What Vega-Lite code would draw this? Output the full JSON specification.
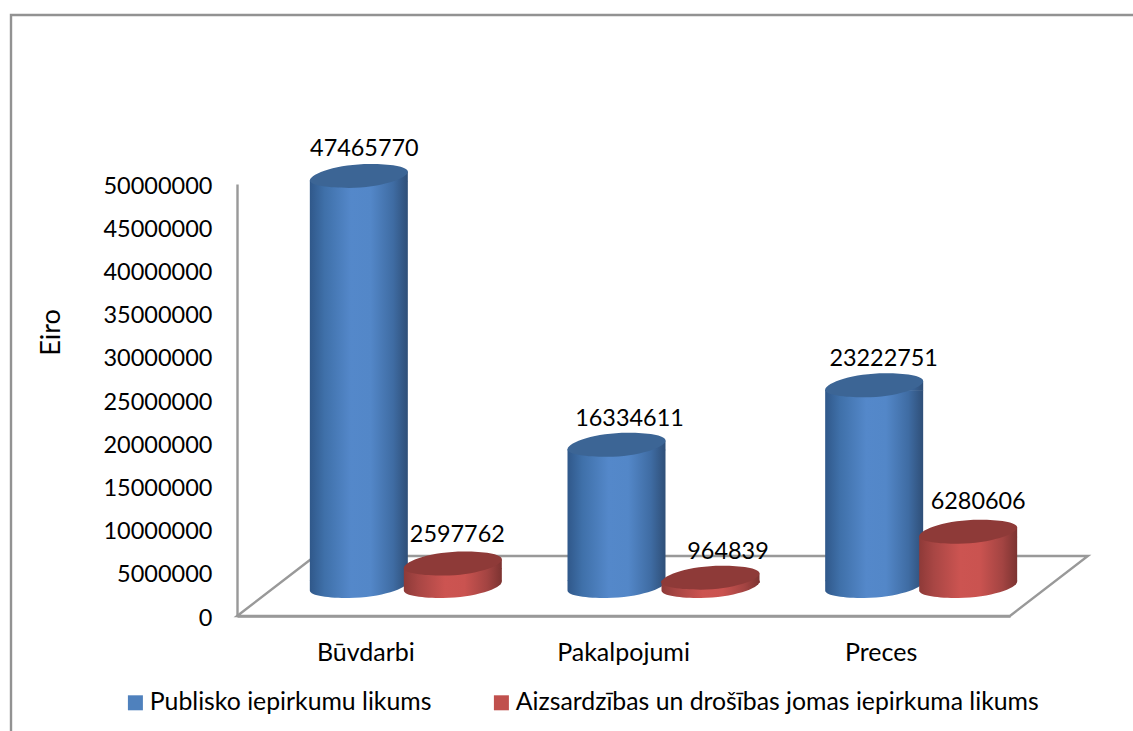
{
"$schema":"https://vega.github.io/schema/vega-lite/v6.json",
"autosize":"none",
"padding":{"left":11,"top":15,"right":0,"bottom":0},
"width":1125,"height":720,
"background":"white",
"config":{"view":{"stroke":"#929292","strokeWidth":2.4},"font":"Lato"},
"datasets":{"d":[
{"kategorija":"Būvdarbi","likums":"Publisko iepirkumu likums","eiro":47465770},
{"kategorija":"Būvdarbi","likums":"Aizsardzības un drošības jomas iepirkuma likums","eiro":2597762},
{"kategorija":"Pakalpojumi","likums":"Publisko iepirkumu likums","eiro":16334611},
{"kategorija":"Pakalpojumi","likums":"Aizsardzības un drošības jomas iepirkuma likums","eiro":964839},
{"kategorija":"Preces","likums":"Publisko iepirkumu likums","eiro":23222751},
{"kategorija":"Preces","likums":"Aizsardzības un drošības jomas iepirkuma likums","eiro":6280606}
]},
"data":{"name":"d"},
"encoding":{
"x":{"field":"kategorija","type":"nominal","sort":null,"title":null,
 "scale":{"type":"band","domain":["Būvdarbi","Pakalpojumi","Preces"],"range":[226,999],"paddingInner":0,"paddingOuter":0},
 "axis":{"offset":-119,"ticks":false,"labelAngle":0,"labelPadding":24,"labelFontSize":25,"labelColor":"#000","labelFont":"Lato","domainColor":"#999999","domainWidth":2.4,"grid":false}},
"y":{"field":"eiro","type":"quantitative","title":"Eiro",
 "scale":{"domain":[0,50000000],"range":[601,169],"nice":false},
 "axis":{"offset":-226,"values":[0,5000000,10000000,15000000,20000000,25000000,30000000,35000000,40000000,45000000,50000000],"format":"d","ticks":false,"grid":false,"labelPadding":25,"labelOffset":2,"labelFontSize":23.5,"labelColor":"#000","labelFont":"Lato","domainColor":"#999999","domainWidth":2.4,"titleFont":"Lato","titleFontWeight":"normal","titleFontSize":27,"titleColor":"#000","titleX":-186,"titleY":317,"titleAngle":270,"titleAlign":"center","titleBaseline":"middle"}}
},
"layer":[
{"transform":[{"filter":"datum.kategorija==='Pakalpojumi' && datum.eiro>5000000"}],
 "mark":{"type":"point","filled":false,"stroke":"#999999","strokeWidth":2.4,"size":640000,"opacity":1,"shape":"M-0.966 0L-0.771 -0.15L1.161 -0.15L0.966 0Z"},
 "encoding":{"y":{"datum":0}}},

{"transform":[{"filter":"datum.likums==='Publisko iepirkumu likums'"}],
 "layer":[
 {"mark":{"type":"bar","width":98,"xOffset":-7,"yOffset":-25,"y2Offset":-35,"fill":{"gradient":"linear","x1":0,"y1":0,"x2":1,"y2":0,"stops":[{"offset":0,"color":"#30588a"},{"offset":0.15,"color":"#3f70a9"},{"offset":0.42,"color":"#5488ca"},{"offset":0.62,"color":"#5387c8"},{"offset":0.85,"color":"#3f6ca3"},{"offset":1,"color":"#2f4f78"}]}},"encoding":{"y2":{"datum":0}}},
 {"mark":{"type":"point","filled":true,"opacity":1,"xOffset":-7,"yOffset":-30,"size":9604,"shape":"M-1 -0.11L1 -0.11L1 -0.09C1 0.05 0.45 0.24 -0.2 0.245C-0.6 0.245 -1 0.2 -1 0.09Z","fill":{"gradient":"linear","x1":0,"y1":0,"x2":1,"y2":0,"stops":[{"offset":0,"color":"#30588a"},{"offset":0.15,"color":"#3f70a9"},{"offset":0.42,"color":"#5488ca"},{"offset":0.62,"color":"#5387c8"},{"offset":0.85,"color":"#3f6ca3"},{"offset":1,"color":"#2f4f78"}]}},"encoding":{"y":{"datum":0}}},
 {"mark":{"type":"point","filled":true,"opacity":1,"xOffset":-7,"yOffset":-30,"size":9604,"shape":"M-1 0.09L1 -0.09L1 0.11L-1 0.11Z","fill":{"gradient":"linear","x1":0,"y1":0,"x2":1,"y2":0,"stops":[{"offset":0,"color":"#30588a"},{"offset":0.15,"color":"#3f70a9"},{"offset":0.42,"color":"#5488ca"},{"offset":0.62,"color":"#5387c8"},{"offset":0.85,"color":"#3f6ca3"},{"offset":1,"color":"#2f4f78"}]}}},
 {"mark":{"type":"point","filled":true,"opacity":1,"xOffset":-7,"yOffset":-30,"size":9604,"fill":"#3c6595","shape":"M-1 0.09C-0.98 -0.06 -0.4 -0.25 0.25 -0.245C0.6 -0.245 1 -0.2 1 -0.09C1 0.05 0.45 0.24 -0.2 0.245C-0.6 0.245 -1 0.2 -1 0.09Z"}}
 ]},

{"transform":[{"filter":"datum.likums!=='Publisko iepirkumu likums'"}],
 "layer":[
 {"mark":{"type":"bar","width":98,"xOffset":87,"yOffset":-25,"y2Offset":-35,"fill":{"gradient":"linear","x1":0,"y1":0,"x2":1,"y2":0,"stops":[{"offset":0,"color":"#8e3a38"},{"offset":0.15,"color":"#a84644"},{"offset":0.42,"color":"#cc5451"},{"offset":0.62,"color":"#ca5350"},{"offset":0.85,"color":"#a34442"},{"offset":1,"color":"#7c3331"}]}},"encoding":{"y2":{"datum":0}}},
 {"mark":{"type":"point","filled":true,"opacity":1,"xOffset":87,"yOffset":-30,"size":9604,"shape":"M-1 -0.11L1 -0.11L1 -0.09C1 0.05 0.45 0.24 -0.2 0.245C-0.6 0.245 -1 0.2 -1 0.09Z","fill":{"gradient":"linear","x1":0,"y1":0,"x2":1,"y2":0,"stops":[{"offset":0,"color":"#8e3a38"},{"offset":0.15,"color":"#a84644"},{"offset":0.42,"color":"#cc5451"},{"offset":0.62,"color":"#ca5350"},{"offset":0.85,"color":"#a34442"},{"offset":1,"color":"#7c3331"}]}},"encoding":{"y":{"datum":0}}},
 {"mark":{"type":"point","filled":true,"opacity":1,"xOffset":87,"yOffset":-30,"size":9604,"shape":"M-1 0.09L1 -0.09L1 0.11L-1 0.11Z","fill":{"gradient":"linear","x1":0,"y1":0,"x2":1,"y2":0,"stops":[{"offset":0,"color":"#8e3a38"},{"offset":0.15,"color":"#a84644"},{"offset":0.42,"color":"#cc5451"},{"offset":0.62,"color":"#ca5350"},{"offset":0.85,"color":"#a34442"},{"offset":1,"color":"#7c3331"}]}}},
 {"mark":{"type":"point","filled":true,"opacity":1,"xOffset":87,"yOffset":-30,"size":9604,"fill":"#8e3a38","shape":"M-1 0.09C-0.98 -0.06 -0.4 -0.25 0.25 -0.245C0.6 -0.245 1 -0.2 1 -0.09C1 0.05 0.45 0.24 -0.2 0.245C-0.6 0.245 -1 0.2 -1 0.09Z"}}
 ]},

{"transform":[{"filter":"datum.eiro===47465770"}],"mark":{"type":"text","xOffset":-1.5,"yOffset":-57,"fontSize":23.4,"font":"Lato","color":"#000","baseline":"middle","align":"center"},"encoding":{"text":{"field":"eiro","type":"quantitative","format":"d"}}},
{"transform":[{"filter":"datum.eiro===16334611"}],"mark":{"type":"text","xOffset":6,"yOffset":-56,"fontSize":23.4,"font":"Lato","color":"#000","baseline":"middle","align":"center"},"encoding":{"text":{"field":"eiro","type":"quantitative","format":"d"}}},
{"transform":[{"filter":"datum.eiro===23222751"}],"mark":{"type":"text","xOffset":2.5,"yOffset":-56,"fontSize":23.4,"font":"Lato","color":"#000","baseline":"middle","align":"center"},"encoding":{"text":{"field":"eiro","type":"quantitative","format":"d"}}},
{"transform":[{"filter":"datum.eiro===2597762"}],"mark":{"type":"text","xOffset":91.5,"yOffset":-59,"fontSize":23.4,"font":"Lato","color":"#000","baseline":"middle","align":"center"},"encoding":{"text":{"field":"eiro","type":"quantitative","format":"d"}}},
{"transform":[{"filter":"datum.eiro===964839"}],"mark":{"type":"text","xOffset":104.5,"yOffset":-56,"fontSize":23.4,"font":"Lato","color":"#000","baseline":"middle","align":"center"},"encoding":{"text":{"field":"eiro","type":"quantitative","format":"d"}}},
{"transform":[{"filter":"datum.eiro===6280606"}],"mark":{"type":"text","xOffset":97,"yOffset":-60,"fontSize":23.4,"font":"Lato","color":"#000","baseline":"middle","align":"center"},"encoding":{"text":{"field":"eiro","type":"quantitative","format":"d"}}},

{"mark":{"type":"point","filled":true,"size":0,"opacity":1},
 "encoding":{"color":{"field":"likums","type":"nominal","title":null,
  "scale":{"domain":["Publisko iepirkumu likums","Aizsardzības un drošības jomas iepirkuma likums"],"range":["#4f81bd","#c0504d"]},
  "legend":{"orient":"none","legendX":112,"legendY":675,"direction":"horizontal","columns":2,"symbolType":"square","symbolSize":225,"symbolStrokeWidth":0,"labelFontSize":24.8,"labelFont":"Lato","labelColor":"#000","labelOffset":2,"columnPadding":57,"labelLimit":700,"symbolOpacity":1}}}}
]
}
